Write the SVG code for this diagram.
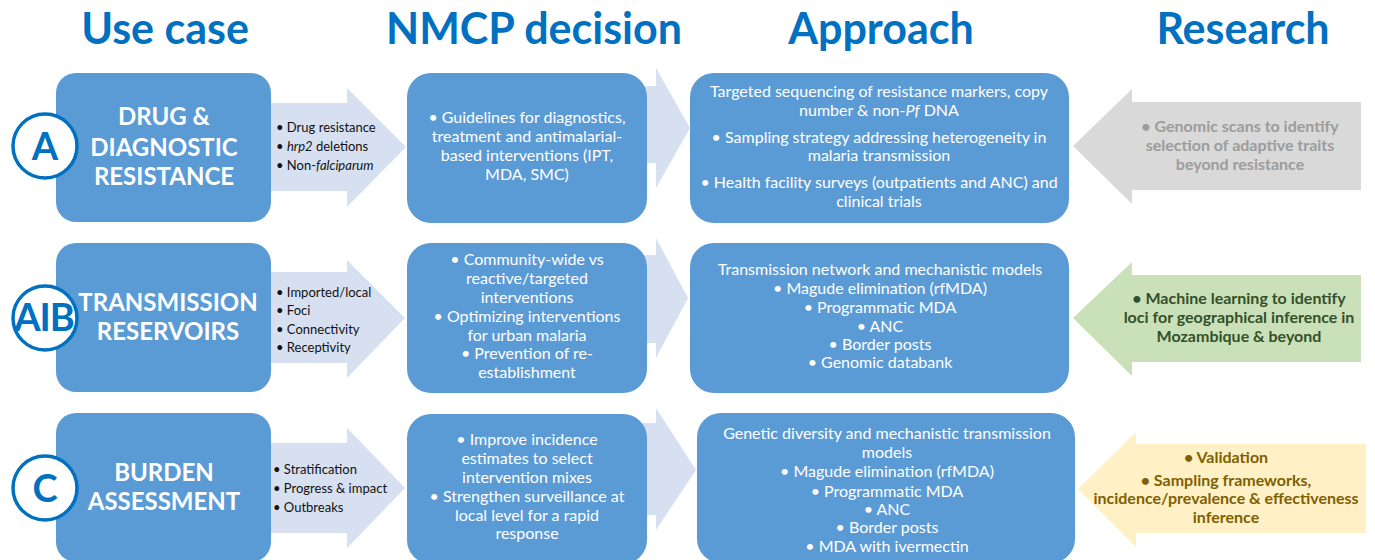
<svg xmlns="http://www.w3.org/2000/svg" width="1375" height="560" viewBox="0 0 1375 560">
  <style>
    .hdr { font-family: Lato, "Liberation Sans", sans-serif; font-weight: 700; font-size: 43px; fill: #0070C0; text-anchor: middle; }
    .box { fill: #5B9BD5; }
    .flow { fill: #D6E0F1; }
    .uc { font-family: Lato, "Liberation Sans", sans-serif; font-weight: 700; font-size: 24px; fill: #FFFFFF; text-anchor: middle; }
    .ring { fill: #FFFFFF; stroke: #0070C0; stroke-width: 3.5; }
    .tag { font-family: Lato, "Liberation Sans", sans-serif; font-weight: 700; font-size: 38px; fill: #0070C0; text-anchor: middle; }
    .lst { font-family: Lato, "Liberation Sans", sans-serif; font-size: 13px; fill: #111111; }
    .txt { font-family: Lato, "Liberation Sans", sans-serif; font-size: 16px; fill: #FFFFFF; text-anchor: middle; }
    .rs { font-family: Lato, "Liberation Sans", sans-serif; font-weight: 700; font-size: 16px; text-anchor: middle; }
    .it { font-style: italic; }
  </style>

  <!-- column headings -->
  <g id="headings">
    <text class="hdr" x="165" y="44">Use case</text>
    <text class="hdr" x="534" y="44">NMCP decision</text>
    <text class="hdr" x="881" y="44">Approach</text>
    <text class="hdr" x="1243" y="44">Research</text>
  </g>

  <!-- block arrows linking the columns -->
  <g id="connectors">
    <!-- use case -> NMCP decision -->
    <polygon class="flow" points="260,103 347,103 347,88 406,147 347,207 347,191 260,191"/>
    <polygon class="flow" points="260,272 347,272 347,260 405,318 347,378 347,363 260,363"/>
    <polygon class="flow" points="260,443 347,443 347,428 405,488 347,548 347,533 260,533"/>
    <!-- NMCP decision -> approach -->
    <polygon class="flow" points="630,86 656,86 656,68 690,128 656,188 656,163 630,163"/>
    <polygon class="flow" points="630,255 656,255 656,238 688,298 656,358 656,343 630,343"/>
    <polygon class="flow" points="630,423 656,423 656,408 696,470 656,530 656,515 630,515"/>
    <!-- research -> approach -->
    <polygon fill="#D9D9D9" points="1361,102 1132,102 1132,89 1073,146 1132,204 1132,190 1361,190"/>
    <polygon fill="#C9E0B8" points="1361,275 1132,275 1132,262 1073,318 1132,376 1132,362 1361,362"/>
    <polygon fill="#FFF0C6" points="1366,444 1136,444 1136,432 1078,489 1136,547 1136,533 1366,533"/>
  </g>

  <!-- row A: drug and diagnostic resistance -->
  <g id="usecase-a">
    <rect class="box" x="56" y="73" width="215" height="149" rx="20"/>
    <text class="uc" x="164" y="125">DRUG &amp;</text>
    <text class="uc" x="164" y="156">DIAGNOSTIC</text>
    <text class="uc" x="164" y="185">RESISTANCE</text>
  </g>
  <g id="tag-a">
    <circle class="ring" cx="45" cy="146" r="32"/>
    <text class="tag" x="45" y="160">A</text>
  </g>
  <g id="list-a">
    <text class="lst" x="276" y="132">• Drug resistance</text>
    <text class="lst" x="276" y="151">• <tspan class="it">hrp2</tspan> deletions</text>
    <text class="lst" x="276" y="170">• Non-<tspan class="it">falciparum</tspan></text>
  </g>
  <g id="nmcp-a">
    <rect class="box" x="407" y="73" width="240" height="150" rx="24"/>
    <text class="txt" x="527" y="123">• Guidelines for diagnostics,</text>
    <text class="txt" x="527" y="142">treatment and antimalarial-</text>
    <text class="txt" x="527" y="161">based interventions (IPT,</text>
    <text class="txt" x="527" y="180">MDA, SMC)</text>
  </g>
  <g id="approach-a">
    <rect class="box" x="690" y="73" width="379" height="150" rx="24"/>
    <text class="txt" x="879" y="97">Targeted sequencing of resistance markers, copy</text>
    <text class="txt" x="879" y="116">number &amp; non-<tspan class="it">Pf</tspan> DNA</text>
    <text class="txt" x="879" y="143">• Sampling strategy addressing heterogeneity in</text>
    <text class="txt" x="879" y="161">malaria transmission</text>
    <text class="txt" x="879" y="188">• Health facility surveys (outpatients and ANC) and</text>
    <text class="txt" x="879" y="207">clinical trials</text>
  </g>
  <g id="research-a">
    <text class="rs" fill="#9C9C9C" x="1240" y="132">• Genomic scans to identify</text>
    <text class="rs" fill="#9C9C9C" x="1240" y="151">selection of adaptive traits</text>
    <text class="rs" fill="#9C9C9C" x="1240" y="170">beyond resistance</text>
  </g>

  <!-- row A|B: transmission reservoirs -->
  <g id="usecase-ab">
    <rect class="box" x="56" y="243" width="215" height="149" rx="20"/>
    <text class="uc" x="168" y="311">TRANSMISSION</text>
    <text class="uc" x="168" y="340">RESERVOIRS</text>
  </g>
  <g id="tag-ab">
    <circle class="ring" cx="45" cy="318" r="32"/>
    <text class="tag" x="44" y="331" font-size="34" letter-spacing="-1">AIB</text>
  </g>
  <g id="list-ab">
    <text class="lst" x="276" y="297">• Imported/local</text>
    <text class="lst" x="276" y="315">• Foci</text>
    <text class="lst" x="276" y="334">• Connectivity</text>
    <text class="lst" x="276" y="352">• Receptivity</text>
  </g>
  <g id="nmcp-ab">
    <rect class="box" x="407" y="243" width="240" height="150" rx="24"/>
    <text class="txt" x="527" y="265">• Community-wide vs</text>
    <text class="txt" x="527" y="284">reactive/targeted</text>
    <text class="txt" x="527" y="303">interventions</text>
    <text class="txt" x="527" y="322">• Optimizing interventions</text>
    <text class="txt" x="527" y="341">for urban malaria</text>
    <text class="txt" x="527" y="359">• Prevention of re-</text>
    <text class="txt" x="527" y="378">establishment</text>
  </g>
  <g id="approach-ab">
    <rect class="box" x="690" y="243" width="379" height="150" rx="24"/>
    <text class="txt" x="880" y="275">Transmission network and mechanistic  models</text>
    <text class="txt" x="880" y="294">• Magude elimination (rfMDA)</text>
    <text class="txt" x="880" y="313">• Programmatic MDA</text>
    <text class="txt" x="880" y="332">• ANC</text>
    <text class="txt" x="880" y="350">• Border posts</text>
    <text class="txt" x="880" y="368">• Genomic databank</text>
  </g>
  <g id="research-ab">
    <text class="rs" fill="#34502A" x="1239" y="304">• Machine learning to identify</text>
    <text class="rs" fill="#34502A" x="1239" y="323">loci for geographical inference in</text>
    <text class="rs" fill="#34502A" x="1239" y="342">Mozambique &amp; beyond</text>
  </g>

  <!-- row C: burden assessment -->
  <g id="usecase-c">
    <rect class="box" x="56" y="413" width="215" height="149" rx="20"/>
    <text class="uc" x="164" y="481">BURDEN</text>
    <text class="uc" x="164" y="510">ASSESSMENT</text>
  </g>
  <g id="tag-c">
    <circle class="ring" cx="45" cy="488" r="32"/>
    <text class="tag" x="45" y="502">C</text>
  </g>
  <g id="list-c">
    <text class="lst" x="273" y="474">• Stratification</text>
    <text class="lst" x="273" y="493">• Progress &amp; impact</text>
    <text class="lst" x="273" y="512">• Outbreaks</text>
  </g>
  <g id="nmcp-c">
    <rect class="box" x="407" y="414" width="240" height="150" rx="24"/>
    <text class="txt" x="527" y="445">• Improve incidence</text>
    <text class="txt" x="527" y="464">estimates to select</text>
    <text class="txt" x="527" y="483">intervention mixes</text>
    <text class="txt" x="527" y="502">• Strengthen surveillance at</text>
    <text class="txt" x="527" y="521">local level for a rapid</text>
    <text class="txt" x="527" y="539">response</text>
  </g>
  <g id="approach-c">
    <rect class="box" x="697" y="413" width="378" height="150" rx="24"/>
    <text class="txt" x="887" y="439">Genetic diversity and mechanistic transmission</text>
    <text class="txt" x="887" y="458">models</text>
    <text class="txt" x="887" y="477">• Magude elimination (rfMDA)</text>
    <text class="txt" x="887" y="497">• Programmatic MDA</text>
    <text class="txt" x="887" y="515">• ANC</text>
    <text class="txt" x="887" y="533">• Border posts</text>
    <text class="txt" x="887" y="552">• MDA with ivermectin</text>
  </g>
  <g id="research-c">
    <text class="rs" fill="#7F6000" x="1226" y="463">• Validation</text>
    <text class="rs" fill="#7F6000" x="1226" y="486">• Sampling frameworks,</text>
    <text class="rs" fill="#7F6000" x="1226" y="504">incidence/prevalence &amp; effectiveness</text>
    <text class="rs" fill="#7F6000" x="1226" y="523">inference</text>
  </g>
</svg>
